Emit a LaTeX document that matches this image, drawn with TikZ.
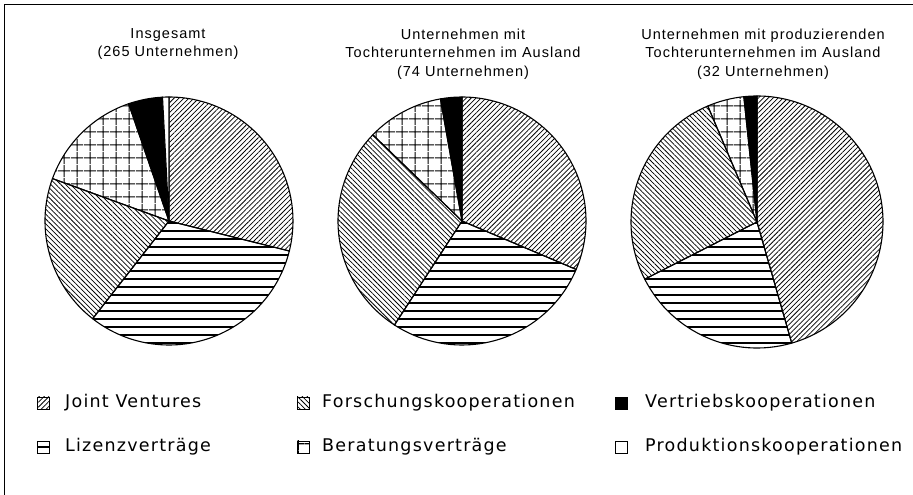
\documentclass[tikz,border=0pt]{standalone}
\usepackage{fontspec}
\setmainfont{Liberation Sans}
\newfontfamily\legfont{DejaVu Sans}
\usetikzlibrary{patterns.meta}

\tikzset{
  jv/.style={pattern={Lines[angle=45,distance=3.5pt,line width=0.75pt]}},
  fk/.style={pattern={Lines[angle=-45,distance=3.5pt,line width=0.75pt]}},
  lz/.style={pattern={Lines[angle=0,distance=8pt,line width=1.1pt]}},
  bv/.style={pattern={Hatch[distance=13pt,line width=1.1pt]}},
  vk/.style={fill=black},
  pk/.style={fill=white},
  pieline/.style={draw,line width=1.1pt,line join=round},
  title/.style={align=center,inner sep=0pt,
    font=\fontsize{14.5}{18.5}\selectfont\addfontfeature{LetterSpace=7}},
  legtext/.style={anchor=west,inner sep=0pt,
    font=\legfont\fontsize{17.5}{20}\selectfont\addfontfeature{LetterSpace=7}},
  legbox/.style={draw,line width=0.8pt,minimum size=12pt,inner sep=0pt}
}

% center, radius, start, end, style
\newcommand{\pieslice}[5]{%
  \draw[pieline,#5] (#1) -- ++(#3:#2) arc[start angle=#3,end angle=#4,radius=#2] -- cycle;
}

\begin{document}
\begin{tikzpicture}[x=1pt,y=1pt]
\useasboundingbox (0,0) rectangle (913,495);
\draw [line width=0.8pt] (4,0) -- (4,491) -- (913,491);

% titles
\node [title] (t1) at (168,451) {Insgesamt\\(265 Unternehmen)};
\node [title] (t2) at (463,441) {Unternehmen mit\\Tochterunternehmen im Ausland\\(74 Unternehmen)};
\node [title] (t3) at (763,441) {Unternehmen mit produzierenden\\Tochterunternehmen im Ausland\\(32 Unternehmen)};

% pie 1
\coordinate (c1) at (169,274);
\pieslice{c1}{124}{90}{-14}{jv}
\pieslice{c1}{124}{-14}{-128}{lz}
\pieslice{c1}{124}{-128}{-200}{fk}
\pieslice{c1}{124}{160}{109}{bv}
\pieslice{c1}{124}{109}{93}{vk}
\pieslice{c1}{124}{93}{90}{pk}

% pie 2
\coordinate (c2) at (462,274);
\pieslice{c2}{124}{90}{-23}{jv}
\pieslice{c2}{124}{-23}{-123}{lz}
\pieslice{c2}{124}{-123}{-224}{fk}
\pieslice{c2}{124}{136}{100}{bv}
\pieslice{c2}{124}{100}{90}{vk}

% pie 3
\coordinate (c3) at (757,273);
\pieslice{c3}{126}{90}{-74}{jv}
\pieslice{c3}{126}{-74}{-153}{lz}
\pieslice{c3}{126}{-153}{-247}{fk}
\pieslice{c3}{126}{113}{96}{bv}
\pieslice{c3}{126}{96}{90}{vk}

% legend
\node [legbox,jv] (bjv) at (43,92) {};
\node [legtext] (ljv) at (65,92) {Joint Ventures};
\node [legbox,fk] (bfk) at (303,92) {};
\node [legtext] (lfk) at (322,92) {Forschungskooperationen};
\node [legbox,vk] (bvk) at (621,92) {};
\node [legtext] (lvk) at (645,92) {Vertriebskooperationen};
\node [legbox,lz] (blz) at (43,48) {};
\node [legtext] (llz) at (65,48) {Lizenzverträge};
\node [legbox,bv] (bbv) at (303,48) {};
\node [legtext] (lbv) at (322,48) {Beratungsverträge};
\node [legbox,pk] (bpk) at (621,48) {};
\node [legtext] (lpk) at (645,48) {Produktionskooperationen};
\end{tikzpicture}
\end{document}
